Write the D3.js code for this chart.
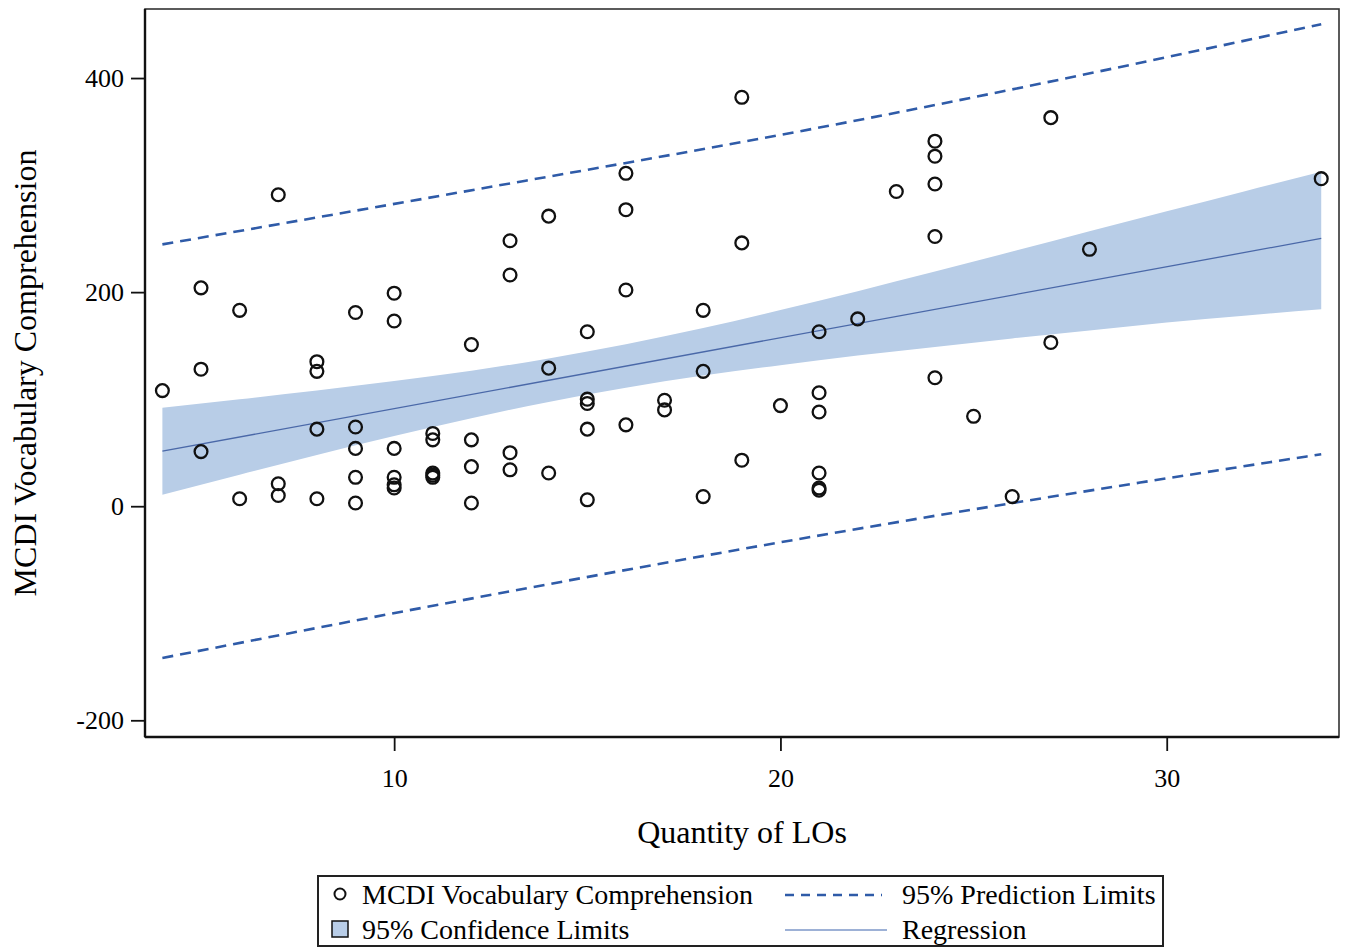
<!DOCTYPE html>
<html>
<head>
<meta charset="utf-8">
<script src="https://cdn.jsdelivr.net/npm/d3@7"></script>
<style>
  html, body { margin: 0; padding: 0; background: #ffffff; }
  svg { display: block; }
  text { font-family: "Liberation Serif", "Times New Roman", serif; fill: #000; }
</style>
</head>
<body>
<svg id="chart" width="1347" height="948"></svg>
<script>
// ---------------- DATA ----------------
const xTicks = [10, 20, 30];
const yTicks = [-200, 0, 200, 400];
const xTitle = "Quantity of LOs";
const yTitle = "MCDI Vocabulary Comprehension";

// observed points: quantity of LOs (x) and MCDI vocabulary comprehension (y)
const pointX = [
  4,
  5, 5, 5,
  6, 6,
  7, 7, 7,
  8, 8, 8, 8,
  9, 9, 9, 9, 9,
  10, 10, 10, 10, 10, 10,
  11, 11, 11, 11, 11,
  12, 12, 12, 12,
  13, 13, 13, 13,
  14, 14, 14,
  15, 15, 15, 15, 15,
  16, 16, 16, 16,
  17, 17,
  18, 18, 18,
  19, 19, 19,
  20,
  21, 21, 21, 21, 21, 21,
  22,
  23,
  24, 24, 24, 24, 24,
  25,
  26,
  27, 27,
  28,
  34
];
const pointY = [
  108,
  204, 128, 51,
  183, 7,
  291, 21, 10,
  135, 126, 72, 7,
  181, 74, 54, 27, 3,
  199, 173, 54, 27, 20, 17,
  68, 62, 31, 29, 27,
  151, 62, 37, 3,
  248, 216, 50, 34,
  271, 129, 31,
  163, 100, 96, 72, 6,
  311, 277, 202, 76,
  99, 90,
  183, 126, 9,
  382, 246, 43,
  94,
  163, 106, 88, 31, 17, 15,
  175,
  294,
  341, 327, 301, 252, 120,
  84,
  9,
  363, 153,
  240,
  306
];

// fitted regression line
const regX = [4, 34];
const regY = [51.4, 250.2];

// 95% confidence limits
const ciX     = [4,    6,    8,    10,    12,    14,    16,    18,    20,    22,    24,    26,    28,    30,    32,    34];
const ciUpper = [92.0, 99.9, 108,  116.9, 126.6, 138,   151.3, 166.4, 183.2, 200.9, 219.2, 237.9, 256.9, 275.5, 294,   312.5];
const ciLower = [10.8, 29.5, 47.8, 65.5,  82.2,  97.4,  110.7, 122,   131.8, 140.7, 148.8, 156.7, 164.1, 171.6, 178,   184];

// 95% prediction limits
const piX     = [4,      11.3,  21.8,  34];
const piUpper = [244.6,  290.7, 359.2, 450.2];
const piLower = [-141.8, -91,   -22.4, 48.6];

const legendItems = [
  "MCDI Vocabulary Comprehension",
  "95% Prediction Limits",
  "95% Confidence Limits",
  "Regression"
];

// ---------------- LAYOUT ----------------
const L = 145, R = 1339, T = 9, B = 737;
const svg = d3.select("#chart");

const x = d3.scaleLinear().domain([3.55, 34.46]).range([L, R]);
const y = d3.scaleLinear().domain([-215.6, 464.5]).range([B, T]);

const bandColor = "#b8cde7";
const regColor = "#4a68a8";
const piColor = "#2f5ba8";

const plot = svg.append("g");

// confidence band
const ciData = ciX.map((v, i) => ({x: v, lo: ciLower[i], hi: ciUpper[i]}));
plot.append("path")
  .datum(ciData)
  .attr("fill", bandColor)
  .attr("stroke", "none")
  .attr("d", d3.area()
    .x(d => x(d.x))
    .y0(d => y(d.lo))
    .y1(d => y(d.hi))
    .curve(d3.curveMonotoneX));

// prediction limits
const piData = piX.map((v, i) => ({x: v, lo: piLower[i], hi: piUpper[i]}));
["hi", "lo"].forEach(k => {
  plot.append("path")
    .datum(piData)
    .attr("fill", "none")
    .attr("stroke", piColor)
    .attr("stroke-width", 2.6)
    .attr("stroke-dasharray", "11,7")
    .attr("d", d3.line().x(d => x(d.x)).y(d => y(d[k])).curve(d3.curveMonotoneX));
});

// regression line
plot.append("path")
  .datum(regX.map((v, i) => ({x: v, y: regY[i]})))
  .attr("fill", "none")
  .attr("stroke", regColor)
  .attr("stroke-width", 1.3)
  .attr("d", d3.line().x(d => x(d.x)).y(d => y(d.y)));

// points
plot.selectAll("circle.pt")
  .data(pointX.map((v, i) => ({x: v, y: pointY[i]})))
  .join("circle")
  .attr("class", "pt")
  .attr("cx", d => x(d.x))
  .attr("cy", d => y(d.y))
  .attr("r", 6.4)
  .attr("fill", "none")
  .attr("stroke", "#111")
  .attr("stroke-width", 2.3);

// frame
svg.append("rect")
  .attr("x", L).attr("y", T)
  .attr("width", R - L).attr("height", B - T)
  .attr("fill", "none")
  .attr("stroke", "#333")
  .attr("stroke-width", 1.6);

// axes
const fmt = d => String(d);
const xAxis = svg.append("g")
  .attr("transform", `translate(0,${B})`)
  .call(d3.axisBottom(x).tickValues(xTicks).tickSize(14).tickPadding(18).tickFormat(fmt));
const yAxis = svg.append("g")
  .attr("transform", `translate(${L},0)`)
  .call(d3.axisLeft(y).tickValues(yTicks).tickSize(14).tickPadding(7).tickFormat(fmt));

[xAxis, yAxis].forEach(g => {
  g.select(".domain").attr("stroke", "#111").attr("stroke-width", 2.4);
  g.selectAll(".tick line").attr("stroke", "#111").attr("stroke-width", 1.8);
  g.selectAll(".tick text")
    .attr("fill", "#111")
    .style("font-family", '"Liberation Serif", "Times New Roman", serif')
    .style("font-size", "26px");
});
xAxis.select(".domain").attr("d", `M${L},0H${R}`);
yAxis.select(".domain").attr("d", `M0,${T}V${B}`);

// axis titles
svg.append("text")
  .attr("x", (L + R) / 2)
  .attr("y", 843)
  .attr("text-anchor", "middle")
  .style("font-size", "32px")
  .text(xTitle);

svg.append("text")
  .attr("transform", `translate(36,${(T + B) / 2}) rotate(-90)`)
  .attr("text-anchor", "middle")
  .style("font-size", "32px")
  .text(yTitle);

// legend
const lg = svg.append("g");
lg.append("rect")
  .attr("x", 318).attr("y", 876)
  .attr("width", 845).attr("height", 70)
  .attr("fill", "#fff")
  .attr("stroke", "#222")
  .attr("stroke-width", 2);

const row1 = 894, row2 = 929;
// marker for points
lg.append("circle").attr("cx", 340).attr("cy", row1).attr("r", 5.5)
  .attr("fill", "none").attr("stroke", "#111").attr("stroke-width", 2);
// band swatch
lg.append("rect").attr("x", 332).attr("y", row2 - 8).attr("width", 16).attr("height", 16)
  .attr("fill", bandColor).attr("stroke", "#111").attr("stroke-width", 1.5);
// prediction dashes
lg.append("line").attr("x1", 785).attr("x2", 882).attr("y1", row1 + 1).attr("y2", row1 + 1)
  .attr("stroke", piColor).attr("stroke-width", 2.4).attr("stroke-dasharray", "9,7");
// regression sample
lg.append("line").attr("x1", 785).attr("x2", 887).attr("y1", row2 + 1).attr("y2", row2 + 1)
  .attr("stroke", "#7d97c8").attr("stroke-width", 1.6);

const textPos = [[362, row1], [902, row1], [362, row2], [902, row2]];
legendItems.forEach((t, i) => {
  lg.append("text")
    .attr("x", textPos[i][0])
    .attr("y", textPos[i][1])
    .attr("dy", "0.35em")
    .style("font-size", "28px")
    .text(t);
});
</script>
</body>
</html>
